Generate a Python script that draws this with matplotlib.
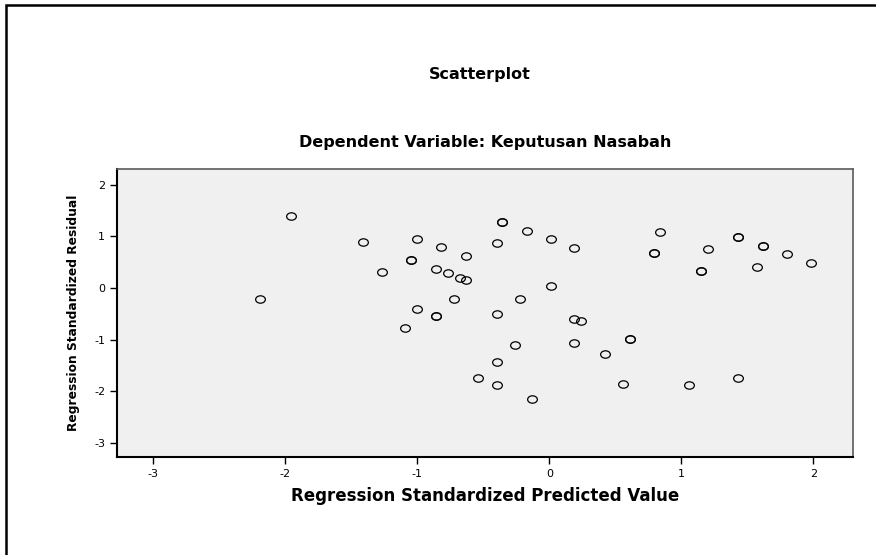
import numpy as np
import matplotlib.pyplot as plt
from matplotlib.patches import Rectangle
from matplotlib.path import Path

# predicted (x) and residual (y) values, repeated pairs are overlapping points
pred = [-2.19, -1.96, -1.41, -1.27, -1.09, -1.00, -1.00, -1.045, -1.045,
        -0.86, -0.86, -0.86, -0.82, -0.77, -0.72, -0.68, -0.63, -0.63,
        -0.54, -0.40, -0.40, -0.40, -0.40, -0.36, -0.36, -0.26, -0.22,
        -0.17, -0.13, 0.01, 0.01, 0.19, 0.19, 0.24, 0.19, 0.42, 0.56,
        0.61, 0.61, 0.79, 0.79, 0.84, 1.06, 1.15, 1.15, 1.20, 1.43, 1.43,
        1.43, 1.57, 1.615, 1.615, 1.80, 1.98]
resid = [-0.22, 1.40, 0.88, 0.30, -0.77, 0.95, -0.41, 0.54, 0.54,
         0.37, -0.54, -0.54, 0.79, 0.28, -0.21, 0.20, 0.62, 0.155,
         -1.75, 0.86, -0.51, -1.43, -1.88, 1.28, 1.28, -1.10, -0.22,
         1.11, -2.14, 0.94, 0.03, 0.77, -0.60, -0.64, -1.06, -1.27, -1.86,
         -0.99, -0.99, 0.67, 0.67, 1.09, -1.87, 0.33, 0.33, 0.75, 0.99, 0.99,
         -1.75, 0.41, 0.82, 0.82, 0.65, 0.48]

ticks = [-3, -2, -1, 0, 1, 2]

plt.rcParams['font.family'] = ['DejaVu Sans']
plt.rcParams['axes.unicode_minus'] = False

# slightly wide open circle, as in the original export
circ = Path.unit_circle()
oval = Path(circ.vertices * [1.0, 0.76], circ.codes)

fig = plt.figure(figsize=(8.76, 5.55), dpi=100)
ax = fig.add_axes([117 / 876, 1 - 457 / 555, 736 / 876, 288 / 555])
ax.set_facecolor("#F0F0F0")

ax.plot(pred, resid, linestyle="none", marker=oval, markersize=7,
        markerfacecolor="none", markeredgecolor="black", markeredgewidth=0.9)

ax.set_xlim(-3.275, 2.30)
ax.set_ylim(-3.27, 2.30)
ax.set_xticks(ticks)
ax.set_yticks(ticks)
ax.tick_params(direction="out", length=5, width=1, labelsize=8, color="black")

for side in ["left", "bottom"]:
    ax.spines[side].set_color("black")
    ax.spines[side].set_linewidth(1.5)
for side in ["top", "right"]:
    ax.spines[side].set_color("#5a5a5a")
    ax.spines[side].set_linewidth(1.2)

ax.set_xlabel("Regression Standardized Predicted Value", fontsize=12,
              fontweight="bold", labelpad=6)
ax.set_ylabel("Regression Standardized Residual", fontsize=8.8,
              fontweight="bold", labelpad=10)

fig.text(0.548, 1 - 75 / 555, "Scatterplot", ha="center", va="center",
         fontsize=11.5, fontweight="bold")
fig.text(0.5537, 1 - 143 / 555, "Dependent Variable: Keputusan Nasabah",
         ha="center", va="center", fontsize=11.5, fontweight="bold")

# outer frame (only top and left edges fall inside the image)
fig.add_artist(Rectangle((6 / 876, -0.2), 1.2, 1.2 - 5 / 555,
                         transform=fig.transFigure, fill=False,
                         edgecolor="black", linewidth=1.8))

fig.savefig("out.png", dpi=100)
plt.close(fig)
